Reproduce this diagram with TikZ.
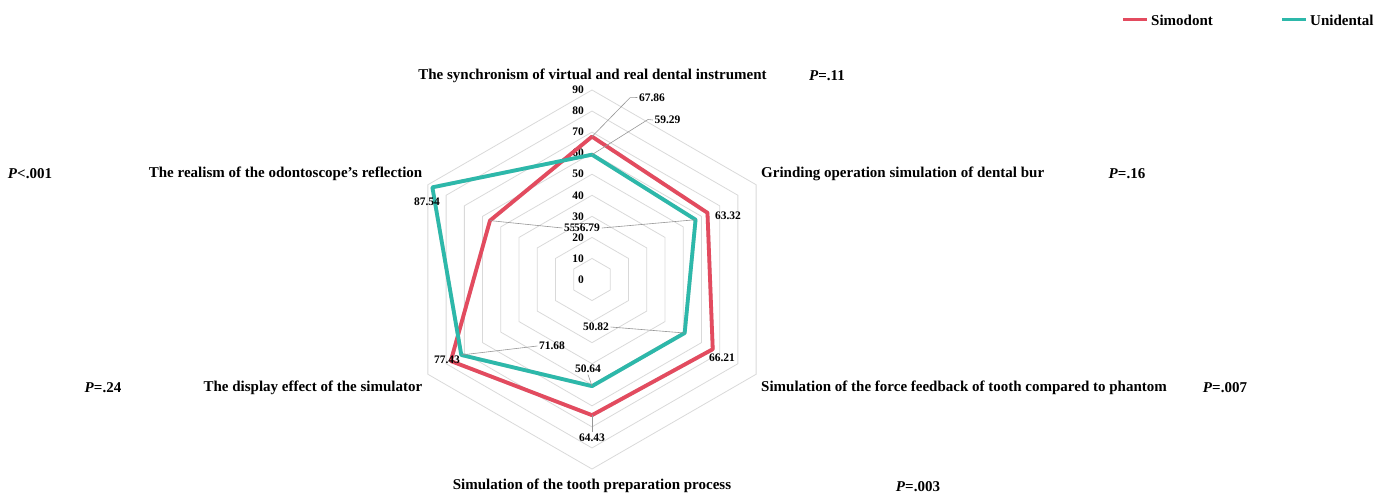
\documentclass[tikz,border=0pt]{standalone}
\usepackage{fontspec}
\setmainfont{Liberation Serif}
\definecolor{simo}{RGB}{227,75,95}
\definecolor{unid}{RGB}{45,184,170}
\definecolor{gridc}{RGB}{217,217,217}
\definecolor{leadc}{RGB}{150,150,150}
\begin{document}
\begin{tikzpicture}[x=1pt,y=-1pt,
  gridline/.style={draw=gridc, line width=0.8pt},
  serie/.style={line width=3.8pt, line join=round},
  shadowline/.style={line width=3.8pt, draw=black, opacity=0.15, line join=round},
  leader/.style={draw=leadc, line width=0.6pt},
  cat/.style={font=\fontsize{15}{15}\selectfont\bfseries, inner sep=0pt},
  pval/.style={font=\fontsize{15}{15}\selectfont\bfseries, inner sep=0pt},
  val/.style={font=\fontsize{11.5}{11.5}\selectfont\bfseries, inner sep=1.5pt},
  tick/.style={font=\fontsize{11.5}{11.5}\selectfont\bfseries, inner sep=0pt, anchor=east},
  legtext/.style={font=\fontsize{15}{15}\selectfont\bfseries, inner sep=0pt, anchor=west}]
\useasboundingbox (0,0) rectangle (1389,493);

\begin{scope}[shift={(592,279.5)}, yscale=-1]
  \def\k{2.1056}
  \foreach \v in {1,...,9}{
    \draw[gridline] (90:{\v*10*\k}) -- (30:{\v*10*\k}) -- (-30:{\v*10*\k}) -- (-90:{\v*10*\k}) -- (-150:{\v*10*\k}) -- (150:{\v*10*\k}) -- cycle;
  }
  \foreach \v in {0,...,9}{ \coordinate (t\v) at (90:{\v*10*\k}); }
  \coordinate (s1) at (90:{67.86*\k});
  \coordinate (s2) at (30:{63.32*\k});
  \coordinate (s3) at (-30:{66.21*\k});
  \coordinate (s4) at (-90:{64.43*\k});
  \coordinate (s5) at (-150:{77.43*\k});
  \coordinate (s6) at (150:{55.95*\k});
  \coordinate (u1) at (90:{59.29*\k});
  \coordinate (u2) at (30:{56.79*\k});
  \coordinate (u3) at (-30:{50.82*\k});
  \coordinate (u4) at (-90:{50.64*\k});
  \coordinate (u5) at (-150:{71.68*\k});
  \coordinate (u6) at (150:{87.54*\k});
\end{scope}

% tick labels
\foreach \v/\l in {0/0,1/10,2/20,3/30,4/40,5/50,6/60,7/70,8/80,9/90}{
  \node[tick] (tl\v) at ([xshift=-8pt]t\v) {\l};
}

% series
\draw[shadowline, xshift=1.2pt, yshift=-1.5pt] (s1) -- (s2) -- (s3) -- (s4) -- (s5) -- (s6) -- cycle;
\draw[shadowline, xshift=1.2pt, yshift=-1.5pt] (u1) -- (u2) -- (u3) -- (u4) -- (u5) -- (u6) -- cycle;
\draw[serie, draw=simo] (s1) -- (s2) -- (s3) -- (s4) -- (s5) -- (s6) -- cycle;
\draw[serie, draw=unid] (u1) -- (u2) -- (u3) -- (u4) -- (u5) -- (u6) -- cycle;

% value labels
\node[val] (ls1) at (652,97.5) {67.86};
\node[val] (lu1) at (667.5,120) {59.29};
\node[val] (ls2) at (728,216) {63.32};
\node[val] (ls6) at (577,228) {55.95};
\node[val, fill=white, inner sep=0.3pt] (lu2) at (587,228) {56.79};
\node[val] (lu6) at (427,202) {87.54};
\node[val] (ls3) at (722,358) {66.21};
\node[val] (lu3) at (596,327) {50.82};
\node[val] (ls4) at (592,438) {64.43};
\node[val] (lu4) at (588,369) {50.64};
\node[val] (lu5) at (552,346) {71.68};
\node[val] (ls5) at (447,360) {77.43};

% leaders
\coordinate (bs1) at (630,97.7);
\coordinate (bu1) at (648,119.5);
\draw[leader] (s1) -- (bs1) -- (ls1.west);
\draw[leader] (u1) -- (bu1) -- (lu1.west);
\draw[leader] ([xshift=1.5pt]lu2.east) -- (u2);
\draw[leader] (s6) -- (ls6.west);
\draw[leader] (lu3.east) -- (u3);
\draw[leader] (s4) -- (ls4.north);
\draw[leader] (lu4.south) -- (u4);
\draw[leader] (lu5.west) -- (u5);

% category labels
\node[cat] (cTop) at (592.5,76) {The synchronism of virtual and real dental instrument};
\node[cat, anchor=west] (cGr) at (761,174) {Grinding operation simulation of dental bur};
\node[cat, anchor=west] (cFo) at (761,388) {Simulation of the force feedback of tooth compared to phantom};
\node[cat] (cTo) at (592,486) {Simulation of the tooth preparation process};
\node[cat, anchor=east] (cDi) at (422.5,388) {The display effect of the simulator};
\node[cat, anchor=east] (cRe) at (422.5,174) {The realism of the odontoscope's reflection};

% p values
\node[pval] (pTop) at (827,75.5) {\textit{P}=.11};
\node[pval] (pGr) at (1127,173.5) {\textit{P}=.16};
\node[pval] (pFo) at (1225,387.5) {\textit{P}=.007};
\node[pval] (pTo) at (918,486.5) {\textit{P}=.003};
\node[pval] (pDi) at (103,387.5) {\textit{P}=.24};
\node[pval] (pRe) at (30,173.5) {\textit{P}<.001};

% legend
\coordinate (lga) at (1123,19.5);
\coordinate (lgb) at (1147,19.5);
\coordinate (lgc) at (1282,19.5);
\coordinate (lgd) at (1306,19.5);
\draw[draw=simo, line width=3.2pt] (lga) -- (lgb);
\draw[draw=unid, line width=3.2pt] (lgc) -- (lgd);
\node[legtext] (lgs) at (1151,20) {Simodont};
\node[legtext] (lgu) at (1310,20) {Unidental};
\end{tikzpicture}
\end{document}
